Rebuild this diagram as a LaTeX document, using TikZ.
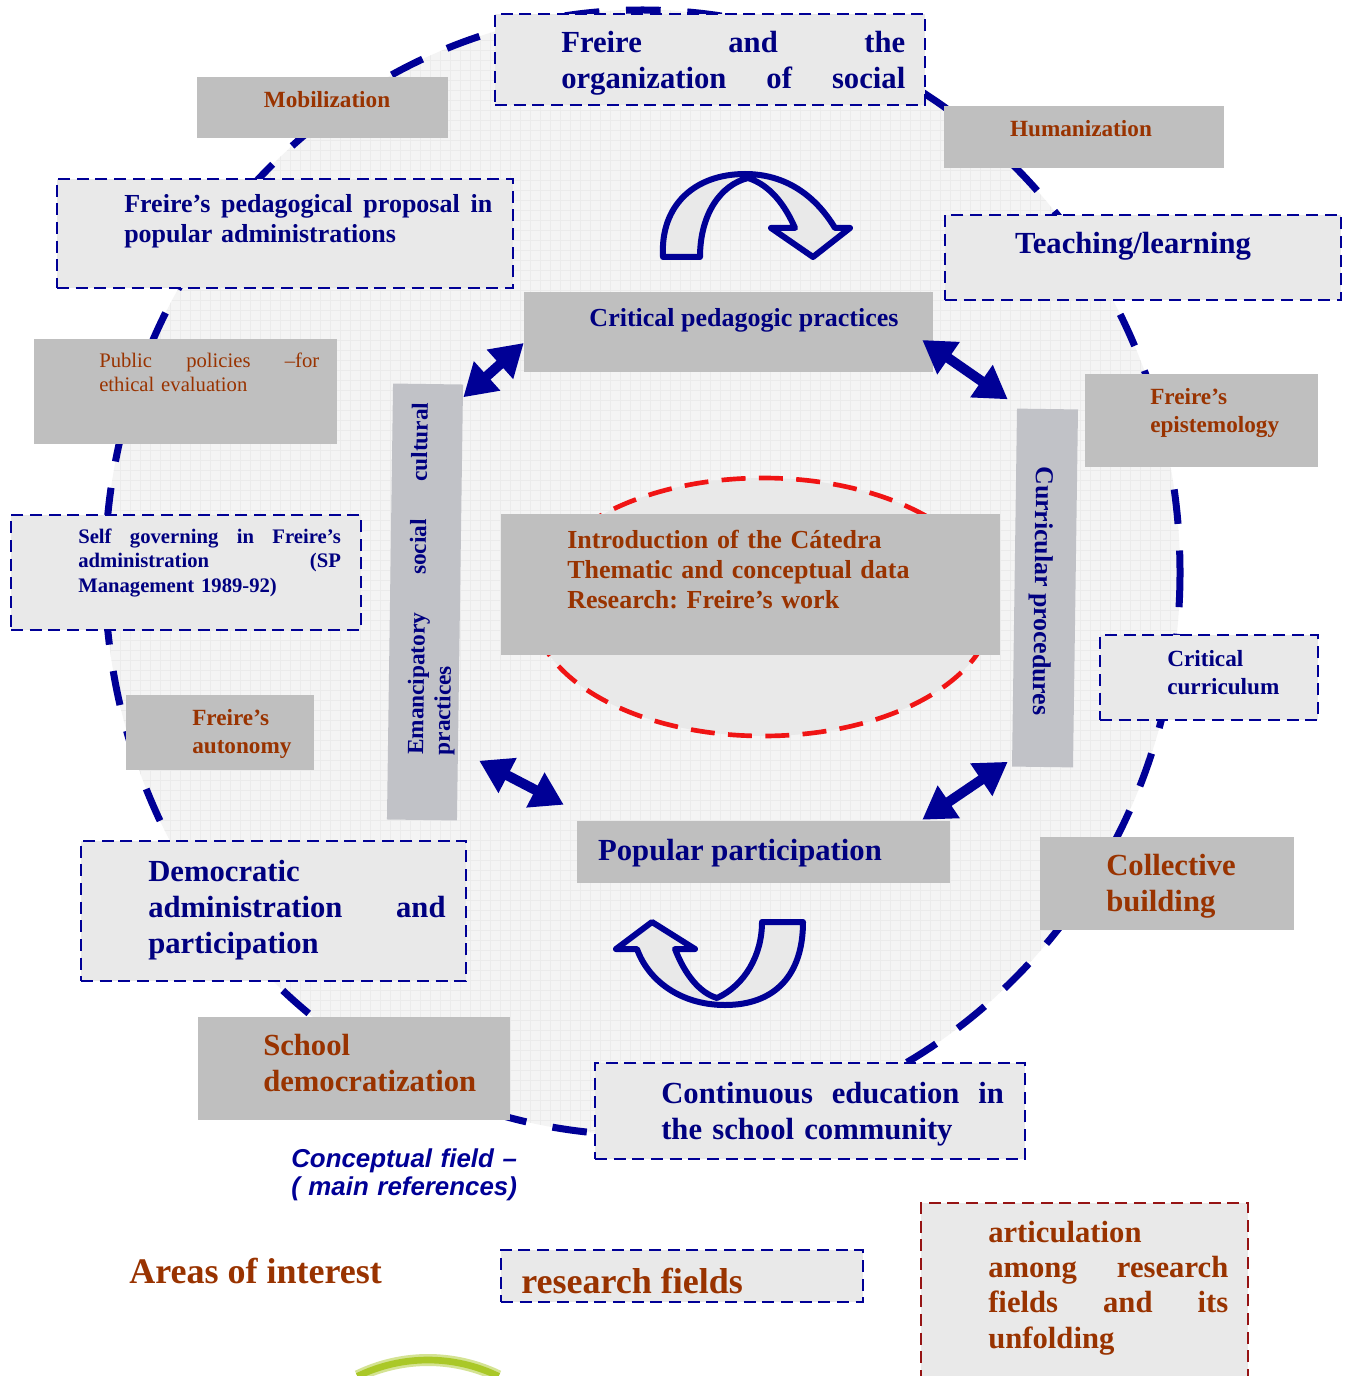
\documentclass[tikz,border=0pt]{standalone}
\usepackage{fontspec}
\setmainfont{Liberation Serif}
\setsansfont{Liberation Sans}
\usetikzlibrary{arrows.meta,calc}
\frenchspacing
\definecolor{dblue}{RGB}{0,0,150}
\definecolor{navytext}{RGB}{0,0,128}
\definecolor{rust}{RGB}{153,51,0}
\definecolor{boxgray}{RGB}{191,191,191}
\definecolor{boxlight}{RGB}{233,233,233}
\definecolor{barfill}{RGB}{193,194,199}
\definecolor{circfill}{RGB}{244,244,244}
\definecolor{gridcol}{RGB}{235,235,235}
\definecolor{ringred}{RGB}{240,20,20}
\definecolor{darkred}{RGB}{150,20,20}
\definecolor{limegreen}{RGB}{170,200,40}
\newcommand{\fbig}{\fontsize{23}{27}\selectfont\bfseries}
\newcommand{\fmid}{\fontsize{19.5}{22.5}\selectfont\bfseries}
\newcommand{\fsmall}{\fontsize{17.4}{21}\selectfont\bfseries}
\newcommand{\ftiny}{\fontsize{15.5}{18.5}\selectfont\bfseries}
\newcommand{\fhuge}{\fontsize{27}{32}\selectfont\bfseries}
\begin{document}
\begin{tikzpicture}[x=0.75pt,y=0.75pt,yscale=-1,xscale=1,
  dbox/.style={draw=dblue, line width=1.1pt, dash pattern=on 9pt off 5pt, fill=boxlight, inner sep=0pt},
  gbox/.style={fill=boxgray, inner sep=0pt},
  vbar/.style={fill=barfill, inner sep=0pt},
  txt/.style={inner sep=0pt, anchor=base west, align=left},
  ctxt/.style={inner sep=0pt, anchor=base},
  dblarrow/.style={color=dblue, line width=7.5pt, {Triangle[length=24pt,width=28pt]}-{Triangle[length=24pt,width=28pt]}},
  curvy/.style={draw=dblue, line width=4.5pt, fill=boxlight, line join=round}]
\useasboundingbox (0,0) rectangle (1351,1376);
\fill[white] (0,0) rectangle (1351,1376);
% conceptual field
\begin{scope}
\clip (642.5,572.5) ellipse (537.5 and 562.5);
\fill[circfill] (100,0) rectangle (1190,1140);
\foreach \gx in {100,110,...,1190} \draw[gridcol, line width=0.4pt] (\gx,0) -- (\gx,1140);
\foreach \gy in {0,10,...,1140} \draw[gridcol, line width=0.4pt] (100,\gy) -- (1190,\gy);
\end{scope}
\draw[dblue, line width=5.25pt, dash pattern=on 26pt off 20pt] (642.5,572.5) ellipse (537.5 and 562.5);
\draw[ringred, line width=3.5pt, dash pattern=on 18pt off 10pt, fill=boxlight] (763,607) ellipse (230 and 129);
% boxes
\node[dbox, minimum width=322.5pt, minimum height=68.25pt] (org) at (710,59.5) {};
\node[gbox, minimum width=188.25pt, minimum height=45.75pt] (mob) at (322.5,107.5) {};
\node[gbox, minimum width=210pt, minimum height=46.5pt] (hum) at (1084,137) {};
\node[dbox, minimum width=342pt, minimum height=81.75pt] (prop) at (285,233.5) {};
\node[dbox, minimum width=297pt, minimum height=63.75pt] (teach) at (1143,257.5) {};
\node[gbox, minimum width=306.75pt, minimum height=60pt] (crit) at (728.5,332) {};
\node[gbox, minimum width=227.25pt, minimum height=78.75pt] (pub) at (185.5,391.5) {};
\node[gbox, minimum width=174.75pt, minimum height=69.75pt] (epist) at (1201.5,420.5) {};
\node[vbar, rotate=-0.8, minimum width=52.5pt, minimum height=327pt] (emanc) at (425,602) {};
\node[vbar, rotate=-0.8, minimum width=45.75pt, minimum height=268.5pt] (curr) at (1045,588) {};
\node[gbox, minimum width=374.25pt, minimum height=105.75pt] (intro) at (750.5,584.5) {};
\node[dbox, minimum width=262.5pt, minimum height=86.25pt] (self) at (186,572.5) {};
\node[dbox, minimum width=163.5pt, minimum height=63.75pt] (ccur) at (1209,677.5) {};
\node[gbox, minimum width=141pt, minimum height=56.25pt] (aut) at (220,732.5) {};
\node[gbox, minimum width=279.75pt, minimum height=46.5pt] (pop) at (763.5,852) {};
\node[dbox, minimum width=288.75pt, minimum height=105pt] (dem) at (273.5,911) {};
\node[gbox, minimum width=190.5pt, minimum height=69.75pt] (coll) at (1167,883.5) {};
\node[gbox, minimum width=234pt, minimum height=77.25pt] (school) at (354,1068.5) {};
\node[dbox, minimum width=322.5pt, minimum height=72pt] (cont) at (810,1111) {};
\node[dbox, minimum width=271.5pt, minimum height=39pt] (rf) at (682,1276) {};
\node[dbox, draw=darkred, minimum width=245.25pt, minimum height=140.25pt] (art) at (1084.5,1296.5) {};
% texts
\node[txt, text width=258pt, navytext, font=\fbig] (orgtxt) at (561,53) {Freire\hfill and\hfill the\\organization\hfill of\hfill social};
\node[ctxt, rust, font=\fsmall] (mobtxt) at (327,108) {Mobilization};
\node[ctxt, rust, font=\fsmall] (humtxt) at (1081,137) {Humanization};
\node[txt, text width=276pt, navytext, font=\fmid] (proptxt) at (124,213) {Freire’s\hfill pedagogical\hfill proposal\hfill in\\popular administrations};
\node[ctxt, navytext, font=\fbig] (teachtxt) at (1133,254) {Teaching/learning};
\node[ctxt, navytext, font=\fmid] (crittxt) at (744,326) {Critical pedagogic practices};
\node[txt, text width=165pt, rust, font={\fontsize{15.5}{18}\selectfont}] (pubtxt) at (99,367) {Public\hfill policies\hfill –for\\ethical evaluation};
\node[txt, text width=140pt, rust, font=\fsmall] (episttxt) at (1150,404) {Freire’s\\epistemology};
\node[txt, rotate=89.2, text width=264pt, navytext, font={\fontsize{17.4}{20}\selectfont\bfseries}] (emanctxt) at (423,755) {Emancipatory\hfill social\hfill cultural\\practices};
\node[navytext, rotate=-90.8, inner sep=0pt, font={\fontsize{19.3}{23}\selectfont\bfseries}] (currtxt) at (1041,591) {Curricular procedures};
\node[txt, text width=330pt, rust, font=\fmid] (introtxt) at (567,548) {Introduction of the Cátedra\\Thematic and conceptual data\\Research: Freire’s work};
\node[txt, text width=197pt, navytext, font=\ftiny] (selftxt) at (78,543) {Self\hfill governing\hfill in\hfill Freire’s\\administration\hfill (SP\\Management 1989-92)};
\node[txt, text width=140pt, navytext, font=\fsmall] (ccurtxt) at (1167,666) {Critical\\curriculum};
\node[txt, text width=120pt, rust, font=\fsmall] (auttxt) at (192,725) {Freire’s\\autonomy};
\node[ctxt, navytext, font=\fbig] (poptxt) at (740,860) {Popular participation};
\node[txt, text width=223pt, navytext, font=\fbig] (demtxt) at (148,881) {Democratic\\administration\hfill and\\participation};
\node[txt, text width=170pt, rust, font=\fbig] (colltxt) at (1106,875) {Collective\\building};
\node[txt, text width=220pt, rust, font=\fbig] (schooltxt) at (263,1055) {School\\democratization};
\node[txt, text width=257pt, navytext, font=\fbig] (conttxt) at (661,1103) {Continuous\hfill education\hfill in\\the school community};
\node[txt, text width=200pt, dblue, font={\sffamily\bfseries\itshape\fontsize{19.4}{21}\selectfont}] (fieldtxt) at (291,1167) {Conceptual field –\\( main references)};
\node[txt, rust, font=\fhuge] (areatxt) at (129,1283) {Areas of interest};
\node[txt, rust, font=\fhuge] (rftxt) at (521,1293) {research fields};
\node[txt, text width=180pt, rust, font={\fontsize{23}{26.5}\selectfont\bfseries}] (arttxt) at (988,1242) {articulation\\among\hfill research\\fields\hfill and\hfill its\\unfolding};
% double arrows
\draw[dblarrow] ($(emanc.north east)+(0,13)$) -- ($(crit.west)+(0,11)$);
\draw[dblarrow] ($(crit.east)+(-11,8)$) -- ($(curr.north west)+(-9,-9)$);
\draw[dblarrow] ($(emanc.south east)+(22,-60)$) -- ($(pop.north west)+(-13,-16)$);
\draw[dblarrow] ($(pop.north east)+(-28,-1)$) -- ($(curr.south west)+(-4,-5)$);
% curved arrows
\draw[curvy] (663,257) .. controls (660,205) and (695,174) .. (745,174) .. controls (785,174) and (815,195) .. (835,228) -- (850,228) -- (813,257) -- (771,228) -- (795,228) .. controls (785,205) and (770,185) .. (748,178) .. controls (720,185) and (700,215) .. (700,257) -- cycle;
\draw[curvy] (803,922) .. controls (803,975) and (775,1005) .. (725,1005) .. controls (680,1005) and (648,980) .. (637,949) -- (616,949) -- (652,922) -- (695,949) -- (675,949) .. controls (685,975) and (700,993) .. (717,998) .. controls (745,985) and (762,955) .. (762,922) -- cycle;
% green arc
\draw[limegreen!50, line width=9pt] (428,1521) ++(244:161) arc (244:296:161);
\draw[limegreen, line width=5pt] (428,1521) ++(244:161) arc (244:296:161);
\end{tikzpicture}
\end{document}
